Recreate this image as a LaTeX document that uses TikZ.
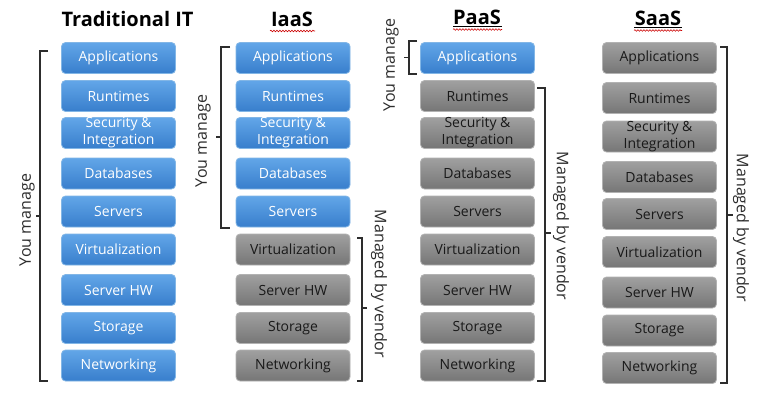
\documentclass[tikz,border=0pt]{standalone}
\usepackage{fontspec}
\setmainfont{Open Sans}
\usetikzlibrary{decorations.pathmorphing}
\definecolor{bluetop}{RGB}{98,166,232}
\definecolor{bluebot}{RGB}{56,126,204}
\definecolor{blueedge}{RGB}{130,182,230}
\definecolor{greytop}{RGB}{160,160,160}
\definecolor{greybot}{RGB}{118,118,118}
\definecolor{greyedge}{RGB}{178,178,178}
\definecolor{ink}{RGB}{45,45,45}
\definecolor{boxink}{RGB}{25,25,25}
\tikzset{
  blk/.style={rounded corners=4pt, minimum width=114pt, minimum height=31pt,
    inner sep=0pt, align=center, line width=0.8pt,
    font=\fontsize{14}{17}\selectfont},
  ubox/.style={blk, top color=bluetop, bottom color=bluebot, draw=blueedge, text=white},
  vbox/.style={blk, top color=greytop, bottom color=greybot, draw=greyedge, text=boxink},
  ttl/.style={anchor=base, font=\fontsize{20}{22}\selectfont\bfseries, text=black, inner sep=0pt},
  brk/.style={draw=ink, line width=1.1pt},
  vlab/.style={text=ink, font=\fontsize{16}{18}\selectfont, inner sep=0pt},
  squiggle/.style={draw=red!80!black, line width=0.6pt,
    decorate, decoration={snake, segment length=3pt, amplitude=0.8pt}},
  uline/.style={draw=black, line width=0.8pt}
}
\begin{document}
\begin{tikzpicture}[x=1pt,y=-1pt]
\useasboundingbox (0,0) rectangle (762,400);
\fill[white] (0,0) rectangle (762,400);

% titles
\node[ttl] (h1) at (127.5,26) {Traditional IT};
\node[ttl] (h2) at (292,26) {IaaS};
\node[ttl] (h3) at (477,24) {PaaS};
\node[ttl] (h4) at (658,25) {SaaS};
\draw[squiggle] (270,31) -- (315,31);
\draw[uline] (453,26) -- (502,26);
\draw[squiggle] (453,29.5) -- (502,29.5);
\draw[uline] (634,27) -- (682,27);
\draw[squiggle] (634,30.5) -- (682,30.5);

% boxes
\foreach \lab/\ya/\ys [count=\k] in {
  Applications/58/58,
  Runtimes/96/98,
  {Security \&\\Integration}/133/136.5,
  Databases/173.5/177,
  Servers/211.5/214,
  Virtualization/249.5/252,
  Server HW/290/292.5,
  Storage/328/330.5,
  Networking/365.5/368}{
  \ifnum\k>5 \def\istyle{vbox}\else\def\istyle{ubox}\fi
  \ifnum\k>1 \def\pstyle{vbox}\else\def\pstyle{ubox}\fi
  \node[ubox] (t\k) at (118.5,\ya) {\lab};
  \node[\istyle] (i\k) at (293,\ya) {\lab};
  \node[\pstyle] (p\k) at (477.5,\ya) {\lab};
  \node[vbox] (s\k) at (659.5,\ys) {\lab};
}

% Traditional IT: you manage
\draw[brk] (48,51) -- (40,51) -- (40,381) -- (48,381);
\draw[brk] (40,216) -- (35.5,216);
\node[vlab, rotate=90] (ty) at (27,220) {You manage};

% IaaS: you manage
\draw[brk] (230,47) -- (221,47) -- (221,228) -- (230,228);
\draw[brk] (221,137) -- (216,137);
\node[vlab, rotate=90] (iy) at (203,141) {You manage};

% IaaS: managed by vendor
\draw[brk] (357,238) -- (362,238) -- (362,381) -- (357,381);
\draw[brk] (362,308) -- (366.5,308);
\node[vlab, rotate=-90] (iv) at (379,284) {Managed by vendor};

% PaaS: you manage
\draw[brk] (417,41) -- (409,41) -- (409,74) -- (417,74);
\draw[brk] (409,57.5) -- (404,57.5);
\node[vlab, rotate=90] (py) at (391,65) {You manage};

% PaaS: managed by vendor
\draw[brk] (537,88) -- (545,88) -- (545,381) -- (537,381);
\draw[brk] (545,233) -- (551,233);
\node[vlab, rotate=-90] (pv) at (561,226) {Managed by vendor};

% SaaS: managed by vendor
\draw[brk] (720,47) -- (727,47) -- (727,383) -- (720,383);
\draw[brk] (727,215) -- (733,215);
\node[vlab, rotate=-90] (sv) at (741,228) {Managed by vendor};
\end{tikzpicture}
\end{document}
